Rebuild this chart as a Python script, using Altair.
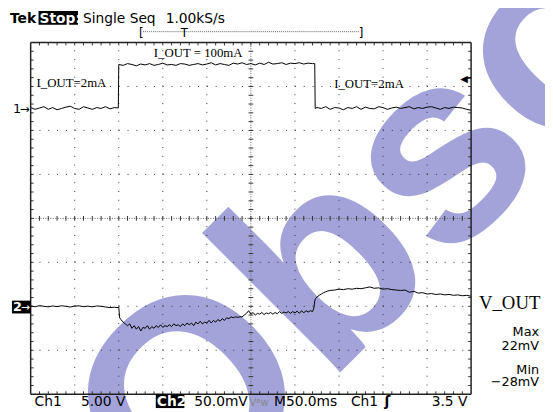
import altair as alt
import pandas as pd

# ---------------- data read from the scope capture ----------------
# Ch1 (load current monitor), volts, 5 V/div ; time in ms, 50 ms/div
ch1_t = (list(range(0, 100, 5)) + [99.5, 100] + list(range(105, 321, 5))
         + [322.5, 323] + list(range(325, 501, 5)))
ch1_low_a = [0.1, -0.1, 0.05, 0.2, -0.1, 0.1, -0.15, 0.0, 0.15, 0.25,
             0.0, -0.1, 0.2, 0.05, -0.1, 0.1, 0.0, 0.2, -0.05, 0.1]
ch1_high = [4.9, 5.1, 5.0, 4.85, 5.05, 4.95, 5.1, 4.9, 5.0, 5.15,
            4.95, 5.0, 4.9, 5.1, 5.05, 4.9, 5.0, 5.1, 4.95, 5.05,
            5.2, 4.95, 5.1, 5.0, 4.9, 5.15, 5.05, 5.2, 5.0, 5.1,
            4.95, 5.15, 5.0, 5.25, 5.05, 5.1, 5.2, 5.0, 5.15, 5.1,
            5.2, 5.05, 5.15, 5.1]
ch1_low_b = [0.1, 0.0, 0.2, -0.1, 0.1, 0.05, -0.15, 0.1, 0.0, 0.2,
             -0.1, 0.15, 0.0, -0.05, 0.2, 0.1, -0.1, 0.05, 0.15, 0.0,
             0.1, 0.2, -0.05, 0.1, 0.0, 0.15, 0.2, 0.05, -0.1, 0.1,
             0.0, 0.15, 0.1, 0.05, -0.1, -0.2]
ch1_v = ch1_low_a + [0.05, 5.0] + ch1_high + [5.1, 0.0] + ch1_low_b

# Ch2 (V_OUT, AC), millivolts, 50 mV/div
ch2_t = (list(range(0, 100, 5)) + [98, 100, 101]
         + [102.5 + 2.5 * i for i in range(88)]
         + [321.5, 322.5, 323.5, 325, 327.5, 330, 332.5, 335, 337.5, 340]
         + list(range(345, 501, 5)))
ch2_base = [0.5, -0.5, 0.8, 0.0, -0.6, 0.4, -0.3, 0.6, 0.0, -0.8,
            0.3, 0.5, -0.4, 0.2, -0.6, 0.4, 0.0, -0.8, -1.5, -1.0]
ch2_edge = [-1.5, -1.0, -13]
ch2_dip = [-15, -18, -20, -22, -20, -25, -22, -26, -23, -28,
           -24, -25, -22, -26, -23, -25, -22, -24, -21, -24,
           -22, -23, -21, -23, -20, -22, -21, -23, -20, -22,
           -19, -21, -19, -22, -18, -20, -17, -20, -18, -19,
           -16, -19, -16, -18, -15, -17, -14, -16, -13, -14,
           -12, -13, -12, -12.5, -12, -12, -10, -8, -5, -9,
           -7, -10, -8, -9, -7, -9.5, -7.5, -8.5, -7, -9,
           -7, -8.5, -6, -8, -6.5, -7.5, -6, -8, -6, -7.5,
           -5.5, -8, -5, -7.5, -5, -6.5, -5, -6]
ch2_rise = [-2, 6, 9, 10.5, 12.5, 14, 15.5, 16.5, 17.5, 18]
ch2_high = [18.5, 19.5, 19, 20, 19.5, 20.5, 20, 21, 22, 20.5,
            21, 19.5, 20, 19, 18.5, 18, 18.5, 16, 17, 15,
            15.5, 14, 14.5, 13.5, 14, 13, 13.5, 12.5, 13, 12,
            12.5, 11.5]
ch2_mv = ch2_base + ch2_edge + ch2_dip + ch2_rise + ch2_high

CH1_VDIV, CH1_POS = 5.0, 2.5     # V/div, ground position (div)
CH2_MVDIV, CH2_POS = 50.0, -2.0  # mV/div, ground position (div)

# ---------------- geometry (page pixels) ----------------
PX0, PY0, W, H = 31, 40, 447, 357


def tx(px):
    return (px - PX0) / W * 500.0


def ty(py):
    return 4.0 - (py - PY0) / H * 8.0


xs = alt.Scale(domain=[0, 500], nice=False, zero=False)
ys = alt.Scale(domain=[-4, 4], nice=False, zero=False)


def X(f):
    return alt.X(f, type="quantitative", scale=xs, axis=None)


def Y(f):
    return alt.Y(f, type="quantitative", scale=ys, axis=None)


layers = []

# watermark ("Obsolete", diagonal)
wm = pd.DataFrame({"t": [tx(181)], "d": [ty(539)]})
layers.append(alt.Chart(wm).mark_text(
    text="Obsolete", font="Liberation Sans", fontWeight="bold", fontSize=275,
    angle=315, color="#a3a3da", align="left", baseline="alphabetic"
).encode(x=X("t"), y=Y("d")))

# graticule: dotted major lines
vmaj = pd.DataFrame({"t": [50, 100, 150, 200, 300, 350, 400, 450], "d0": -4.0, "d1": 4.0})
hmaj = pd.DataFrame({"d": [-3, -2, -1, 1, 2, 3], "t0": 0.0, "t1": 500.0})
layers.append(alt.Chart(vmaj).mark_rule(strokeDash=[1, 7.925], color="#333", strokeWidth=1)
              .encode(x=X("t"), y=Y("d0"), y2="d1"))
layers.append(alt.Chart(hmaj).mark_rule(strokeDash=[1, 7.94], color="#333", strokeWidth=1)
              .encode(y=Y("d"), x=X("t0"), x2="t1"))
# centre cross
vc = pd.DataFrame({"t": [250.0], "d0": [-4.0], "d1": [4.0]})
hc = pd.DataFrame({"d": [0.0], "t0": [0.0], "t1": [500.0]})
layers.append(alt.Chart(vc).mark_rule(strokeDash=[1, 1.5], color="#666", strokeWidth=1)
              .encode(x=X("t"), y=Y("d0"), y2="d1"))
layers.append(alt.Chart(hc).mark_rule(strokeDash=[1, 1.5], color="#666", strokeWidth=1)
              .encode(y=Y("d"), x=X("t0"), x2="t1"))

# minor ticks (every 1/5 division)
tl_d = 3.0 / H * 8.0      # 3 px in div units (vertical)
tl_t = 3.0 / W * 500.0    # 3 px in ms (horizontal)
vt = []
for k in range(1, 50):
    t = k * 10.0
    vt.append({"t": t, "d0": 4.0, "d1": 4.0 - tl_d})
    vt.append({"t": t, "d0": -4.0, "d1": -4.0 + tl_d})
    vt.append({"t": t, "d0": -tl_d * 0.8, "d1": tl_d * 0.8})
ht = []
for k in range(-19, 20):
    d = k * 0.2
    ht.append({"d": d, "t0": 0.0, "t1": tl_t})
    ht.append({"d": d, "t0": 500.0 - tl_t, "t1": 500.0})
    ht.append({"d": d, "t0": 250 - tl_t * 0.8, "t1": 250 + tl_t * 0.8})
layers.append(alt.Chart(pd.DataFrame(vt)).mark_rule(color="#333", strokeWidth=1)
              .encode(x=X("t"), y=Y("d0"), y2="d1"))
layers.append(alt.Chart(pd.DataFrame(ht)).mark_rule(color="#333", strokeWidth=1)
              .encode(y=Y("d"), x=X("t0"), x2="t1"))

# traces
df1 = pd.DataFrame({"t": ch1_t, "v": ch1_v})
df1["d"] = df1["v"] / CH1_VDIV + CH1_POS
df2 = pd.DataFrame({"t": ch2_t, "mv": ch2_mv})
df2["d"] = df2["mv"] / CH2_MVDIV + CH2_POS
layers.append(alt.Chart(df1).mark_line(color="black", strokeWidth=1)
              .encode(x=X("t"), y=Y("d"), order="t:Q"))
layers.append(alt.Chart(df2).mark_line(color="black", strokeWidth=1)
              .encode(x=X("t"), y=Y("d"), order="t:Q"))

# frame
frame_v = pd.DataFrame({"t": [0.0, 500.0], "d0": -4.0, "d1": 4.0})
frame_h = pd.DataFrame({"d": [-4.0, 4.0], "t0": 0.0, "t1": 500.0})
layers.append(alt.Chart(frame_v).mark_rule(color="#222", strokeWidth=1.5)
              .encode(x=X("t"), y=Y("d0"), y2="d1"))
layers.append(alt.Chart(frame_h).mark_rule(color="#222", strokeWidth=1.5)
              .encode(y=Y("d"), x=X("t0"), x2="t1"))


def box(px0, py0, px1, py1, color="black"):
    df = pd.DataFrame({"t0": [tx(px0)], "t1": [tx(px1)], "d0": [ty(py0)], "d1": [ty(py1)]})
    return alt.Chart(df).mark_rect(color=color).encode(x=X("t0"), x2="t1", y=Y("d0"), y2="d1")


def hline(px0, px1, py, dash=None, color="black", width=1):
    df = pd.DataFrame({"t0": [tx(px0)], "t1": [tx(px1)], "d": [ty(py)]})
    kw = dict(color=color, strokeWidth=width)
    if dash:
        kw["strokeDash"] = dash
    return alt.Chart(df).mark_rule(**kw).encode(y=Y("d"), x=X("t0"), x2="t1")


def label(text, px, py, size, font="DejaVu Sans", weight="normal", color="black", align="left"):
    df = pd.DataFrame({"t": [tx(px)], "d": [ty(py)]})
    return alt.Chart(df).mark_text(
        text=text, font=font, fontSize=size, fontWeight=weight, color=color,
        align=align, baseline="alphabetic"
    ).encode(x=X("t"), y=Y("d"))


# header
layers.append(label("Tek", 10, 20, 14, weight="bold"))
layers.append(box(39, 8, 79, 22))
layers.append(label("Stop:", 40, 20, 14, weight="bold", color="white"))
layers.append(label("Single Seq", 84, 20, 14))
layers.append(label("1.00kS/s", 168, 20, 14))
layers.append(hline(145, 365, 29, dash=[1, 1], color="#666"))
layers.append(label("[", 141, 34, 12))
layers.append(label("]", 364, 34, 12))
layers.append(label("T", 187, 34, 12, align="center"))

# in-plot annotations
layers.append(label("I_OUT = 100mA", 156, 55, 13, font="Liberation Serif"))
layers.append(label("I_OUT=2mA", 37, 85, 13, font="Liberation Serif"))
layers.append(label("I_OUT=2mA", 339, 86, 13, font="Liberation Serif"))

# channel markers
layers.append(label("1", 13, 112, 13))
layers.append(label("→", 20, 112, 12))
layers.append(box(12, 302, 31, 315))
layers.append(label("2", 13, 313, 13, weight="bold", color="white"))
layers.append(label("→", 21, 313, 11, color="white"))
# trigger level marker
layers.append(label("◀", 467, 80, 10))
layers.append(hline(472, 478, 76, width=1.5))

# bottom readout
layers.append(label("Ch1", 35, 409, 14))
layers.append(label("5.00 V", 82, 409, 14))
layers.append(box(158, 397, 187, 411))
layers.append(label("Ch2", 159, 409, 14, weight="bold", color="white"))
layers.append(label("50.0mV", 197, 409, 14))
layers.append(label("Vᴮw", 253, 409, 10, color="#888"))
layers.append(label("M50.0ms", 278, 409, 14))
layers.append(label("Ch1", 356, 409, 14))
layers.append(label("ʃ", 390, 409, 14, weight="bold"))
layers.append(label("3.5 V", 438, 409, 14))

# right side
layers.append(label("V_OUT", 486, 310, 19, font="Liberation Serif"))
layers.append(label("Max", 547, 338, 13, align="right"))
layers.append(label("22mV", 547, 352, 13, align="right"))
layers.append(label("Min", 547, 376, 13, align="right"))
layers.append(label("−28mV", 547, 389, 13, align="right"))

chart = alt.layer(*layers).properties(
    width=W, height=H,
    autosize=alt.AutoSizeParams(type="none"),
    padding={"left": PX0 - 8, "top": PY0 - 8, "right": 545 - (PX0 - 8) - W, "bottom": 404 - (PY0 - 8) - H},
    background="white",
).configure_view(stroke=None)

chart.save("out.html", embed_options={"renderer": "svg", "actions": False})
